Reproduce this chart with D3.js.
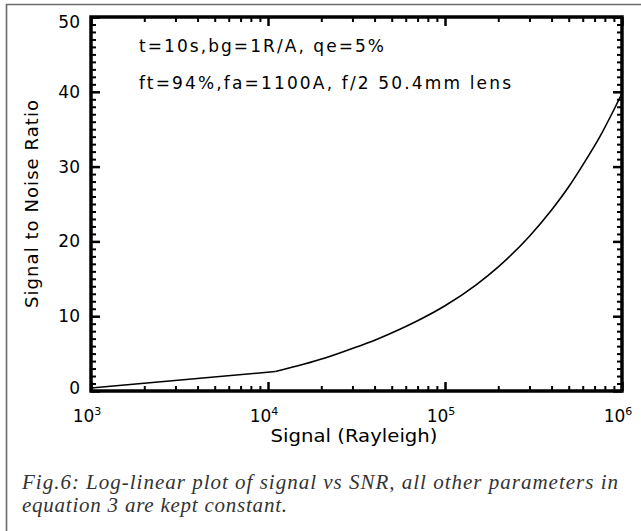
<!DOCTYPE html>
<html>
<head>
<meta charset="utf-8">
<script src="https://cdn.jsdelivr.net/npm/d3@7"></script>
<style>
  html, body { margin: 0; padding: 0; background: #fff; }
  svg { display: block; }
</style>
</head>
<body>
<svg id="chart" width="641" height="531"></svg>
<script>
// ---- data ----
const signal = [1000, 11000, 21000, 31000, 41000, 56000, 70000, 100000, 150000, 200000, 300000, 400000, 500000, 600000, 750000, 900000, 1000000];
const snr    = [0.4,  2.6,   4.4,   5.8,   6.9,   8.3,   9.4,   11.4,   14.2,   16.6,   20.7,   24.2,   27.3,   30.2,   34.0,   37.6,   39.8];
const xMajorTicks = [1e3, 1e4, 1e5, 1e6];
const xTickExponents = ["3", "4", "5", "6"];
const yMajorTicks = [0, 10, 20, 30, 40, 50];
const annotations = ["t=10s,bg=1R/A, qe=5%", "ft=94%,fa=1100A, f/2 50.4mm lens"];
const xTitle = "Signal (Rayleigh)";
const yTitle = "Signal to Noise Ratio";
const caption = ["Fig.6: Log-linear plot of signal vs SNR, all other parameters in", "equation 3 are kept constant."];

const svg = d3.select("#chart");
const L = 91, R = 622, T = 17, B = 391;
const x = d3.scaleLog().domain([1e3, 1e6]).range([L, R]);
const y = d3.scaleLinear().domain([0, 50]).range([B, T]);

const sansFont = "'DejaVu Sans', sans-serif";

// outer frame (left and top gray lines)
svg.append("line").attr("x1", 6).attr("y1", 4.5).attr("x2", 641).attr("y2", 4.5)
  .attr("stroke", "#6a6a6a").attr("stroke-width", 1.6);
svg.append("line").attr("x1", 6.5).attr("y1", 4).attr("x2", 6.5).attr("y2", 531)
  .attr("stroke", "#6a6a6a").attr("stroke-width", 1.6);

// minor ticks
const xMinor = x.ticks().filter(v => !xMajorTicks.includes(v));
const yMinor = d3.range(0, 51, 1).filter(v => v % 10 !== 0);

function styleAxis(g, w) {
  g.select(".domain").remove();
  g.selectAll(".tick line").attr("stroke", "#000").attr("stroke-width", w);
}

// bottom
svg.append("g").attr("transform", `translate(0,${B})`)
  .call(d3.axisBottom(x).tickValues(xMinor).tickSize(-5).tickFormat(""))
  .call(g => styleAxis(g, 2));
svg.append("g").attr("transform", `translate(0,${B})`)
  .call(d3.axisBottom(x).tickValues(xMajorTicks).tickSize(-9).tickFormat(""))
  .call(g => styleAxis(g, 2.5));
// top
svg.append("g").attr("transform", `translate(0,${T})`)
  .call(d3.axisTop(x).tickValues(xMinor).tickSize(-5).tickFormat(""))
  .call(g => styleAxis(g, 2));
svg.append("g").attr("transform", `translate(0,${T})`)
  .call(d3.axisTop(x).tickValues(xMajorTicks).tickSize(-9).tickFormat(""))
  .call(g => styleAxis(g, 2.5));
// left
svg.append("g").attr("transform", `translate(${L},0)`)
  .call(d3.axisLeft(y).tickValues(yMinor).tickSize(-5).tickFormat(""))
  .call(g => styleAxis(g, 2));
const yLeft = svg.append("g").attr("transform", `translate(${L},0)`)
  .call(d3.axisLeft(y).tickValues(yMajorTicks).tickSize(-9).tickPadding(11).tickFormat(d3.format("d")))
  .call(g => styleAxis(g, 2.5));
yLeft.selectAll(".tick text")
  .attr("fill", "#000").attr("font-family", sansFont).attr("font-size", 17)
  .attr("transform", d => d === 50 ? "translate(0,5)" : (d === 0 ? "translate(0,-3)" : null));
// right
svg.append("g").attr("transform", `translate(${R},0)`)
  .call(d3.axisRight(y).tickValues(yMinor).tickSize(-5).tickFormat(""))
  .call(g => styleAxis(g, 2));
svg.append("g").attr("transform", `translate(${R},0)`)
  .call(d3.axisRight(y).tickValues(yMajorTicks).tickSize(-9).tickFormat(""))
  .call(g => styleAxis(g, 2.5));

// plot frame
svg.append("rect").attr("x", L).attr("y", T).attr("width", R - L).attr("height", B - T)
  .attr("fill", "none").attr("stroke", "#000").attr("stroke-width", 3.5);

// x tick labels with superscript exponents
const xl = svg.append("g").selectAll("text").data(xMajorTicks).join("text")
  .attr("x", d => x(d) - 4).attr("y", 422)
  .attr("text-anchor", "middle")
  .attr("font-family", sansFont).attr("font-size", 17).attr("fill", "#000");
xl.append("tspan").text("10");
xl.append("tspan").attr("dy", -7).attr("font-size", 11).text((d, i) => xTickExponents[i]);

// curve: straight first segment (sparse samples), smooth afterwards
const pts = signal.map((s, i) => [s, snr[i]]);
const lineLin = d3.line().x(d => x(d[0])).y(d => y(d[1]));
const lineSmooth = d3.line().x(d => x(d[0])).y(d => y(d[1])).curve(d3.curveMonotoneX);
svg.append("path").datum(pts.slice(0, 2)).attr("d", lineLin)
  .attr("fill", "none").attr("stroke", "#000").attr("stroke-width", 1.6);
svg.append("path").datum(pts.slice(1)).attr("d", lineSmooth)
  .attr("fill", "none").attr("stroke", "#000").attr("stroke-width", 1.6);

// annotations
svg.append("text").attr("x", 139).attr("y", 52).attr("font-family", sansFont).attr("font-size", 17)
  .attr("textLength", 245).attr("lengthAdjust", "spacing").text(annotations[0]);
svg.append("text").attr("x", 139).attr("y", 89).attr("font-family", sansFont).attr("font-size", 17)
  .attr("textLength", 372).attr("lengthAdjust", "spacing").text(annotations[1]);

// axis titles
svg.append("text").attr("x", 354).attr("y", 442).attr("text-anchor", "middle")
  .attr("font-family", sansFont).attr("font-size", 18)
  .attr("textLength", 167).attr("lengthAdjust", "spacingAndGlyphs").text(xTitle);
svg.append("text").attr("transform", `translate(38,${(T + B) / 2}) rotate(-90)`)
  .attr("text-anchor", "middle").attr("font-family", sansFont).attr("font-size", 18)
  .attr("textLength", 208).attr("lengthAdjust", "spacing").text(yTitle);

// caption
svg.append("text").attr("x", 22).attr("y", 489).attr("font-family", "'Liberation Serif', serif")
  .attr("font-style", "italic").attr("font-size", 21).attr("fill", "#333")
  .attr("textLength", 596).attr("lengthAdjust", "spacing").text(caption[0]);
svg.append("text").attr("x", 22).attr("y", 512).attr("font-family", "'Liberation Serif', serif")
  .attr("font-style", "italic").attr("font-size", 21).attr("fill", "#333")
  .attr("textLength", 265).attr("lengthAdjust", "spacing").text(caption[1]);
</script>
</body>
</html>
